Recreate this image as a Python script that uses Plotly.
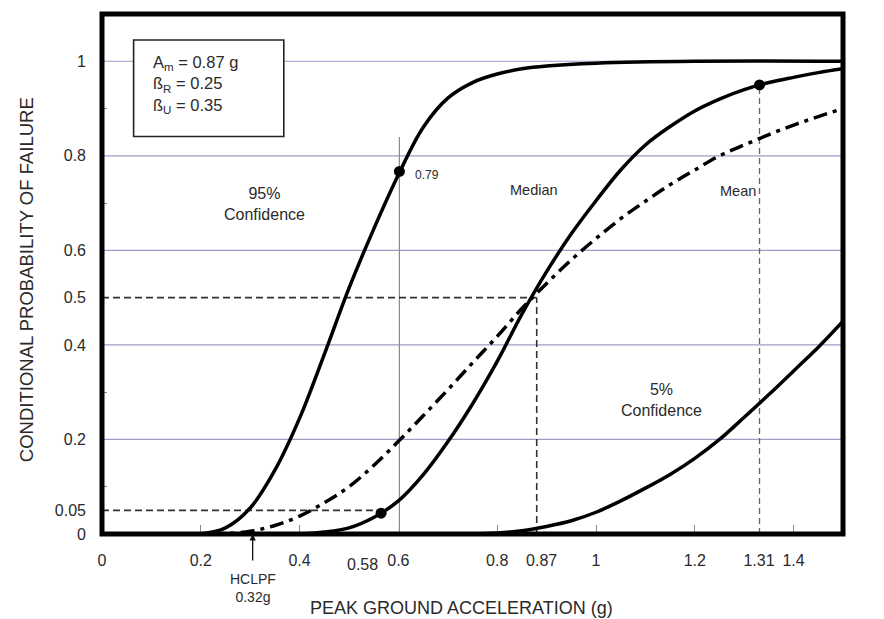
import plotly.graph_objects as go

# ---- data ----
# 95% confidence fragility curve
c95_x = [0.10, 0.20, 0.25, 0.30, 0.35, 0.40, 0.45, 0.50, 0.55, 0.60, 0.65, 0.70, 0.75, 0.80, 0.85, 0.90, 1.00, 1.20, 1.50]
c95_y = [0.0, 0.0, 0.013, 0.055, 0.135, 0.245, 0.38, 0.52, 0.645, 0.76, 0.86, 0.922, 0.955, 0.973, 0.984, 0.99, 0.996, 1.0, 1.0]
# median curve
med_x = [0.30, 0.40, 0.45, 0.50, 0.55, 0.60, 0.65, 0.70, 0.75, 0.80, 0.85, 0.90, 0.95, 1.00, 1.05, 1.10, 1.15, 1.20, 1.25, 1.30, 1.35, 1.40, 1.45, 1.50]
med_y = [0.0, 0.0, 0.004, 0.013, 0.035, 0.07, 0.125, 0.195, 0.275, 0.365, 0.465, 0.555, 0.635, 0.705, 0.77, 0.823, 0.862, 0.895, 0.92, 0.94, 0.955, 0.966, 0.976, 0.984]
# mean curve (dash-dot)
mean_x = [0.22, 0.25, 0.30, 0.35, 0.40, 0.45, 0.50, 0.55, 0.60, 0.65, 0.70, 0.75, 0.80, 0.85, 0.90, 0.95, 1.00, 1.05, 1.10, 1.15, 1.20, 1.25, 1.30, 1.35, 1.40, 1.45, 1.50]
mean_y = [0.0, 0.001, 0.006, 0.018, 0.038, 0.066, 0.10, 0.145, 0.196, 0.25, 0.305, 0.362, 0.418, 0.477, 0.53, 0.58, 0.625, 0.667, 0.704, 0.739, 0.77, 0.80, 0.823, 0.845, 0.865, 0.883, 0.90]
# 5% confidence curve
c5_x = [0.60, 0.70, 0.75, 0.80, 0.85, 0.90, 0.95, 1.00, 1.05, 1.10, 1.15, 1.20, 1.25, 1.30, 1.35, 1.40, 1.45, 1.50]
c5_y = [0.0, 0.0, 0.0, 0.002, 0.007, 0.016, 0.028, 0.046, 0.07, 0.097, 0.126, 0.16, 0.20, 0.247, 0.295, 0.345, 0.395, 0.45]

# highlighted points
dot_x = [0.602, 0.565, 1.331]
dot_y = [0.767, 0.044, 0.950]

# reference guide values
grid_y = [0.2, 0.4, 0.6, 0.8, 1.0]
minor_y = [0.1, 0.3, 0.7, 0.9]
ytick_vals = [0, 0.05, 0.2, 0.4, 0.5, 0.6, 0.8, 1]
ytick_text = ["0", "0.05", "0.2", "0.4", "0.5", "0.6", "0.8", "1"]
xtick_vals = [0, 0.2, 0.4, 0.6, 0.8, 0.89, 1, 1.2, 1.33, 1.4]
xtick_text = ["0", "0.2", "0.4", "0.6", "0.8", "0.87", "1", "1.2", "1.31", "1.4"]
xminor = [0.2, 0.4, 0.8, 1.0, 1.2, 1.4]
median_cap = 0.88   # position of the 0.87 g guide
mean_cap = 1.331    # position of the 1.31 g guide
hclpf_x = 0.305     # position of HCLPF arrow
pt58_x = 0.565
vline_x = 0.602

FONT = "Liberation Sans, Arial, sans-serif"
TXT = "#2a2a2a"

fig = go.Figure()

def curve(x, y, dash=None):
    fig.add_trace(go.Scatter(
        x=x, y=y, mode="lines",
        line=dict(color="black", width=3.5, shape="spline", smoothing=1.0,
                  dash=dash),
        hoverinfo="skip", showlegend=False, cliponaxis=True))

curve(c95_x, c95_y)
curve(med_x, med_y)
curve(mean_x, mean_y, dash="14px,6px,4px,6px")
curve(c5_x, c5_y)

fig.add_trace(go.Scatter(x=dot_x, y=dot_y, mode="markers",
                         marker=dict(color="black", size=11),
                         hoverinfo="skip", showlegend=False, cliponaxis=False))

shapes = []
for g in grid_y:
    shapes.append(dict(type="line", xref="x", yref="y", x0=0, x1=1.5, y0=g, y1=g,
                       line=dict(color="#9c9cc6", width=1.2), layer="below"))
shapes.append(dict(type="line", xref="x", yref="y", x0=vline_x, x1=vline_x, y0=0, y1=0.84,
                   line=dict(color="#8a8a8a", width=1.2), layer="below"))
dk = dict(color="#333333", width=1.6, dash="7px,4px")
shapes.append(dict(type="line", xref="x", yref="y", x0=0, x1=median_cap, y0=0.5, y1=0.5, line=dk, layer="below"))
shapes.append(dict(type="line", xref="x", yref="y", x0=median_cap, x1=median_cap, y0=0, y1=0.5, line=dk, layer="below"))
shapes.append(dict(type="line", xref="x", yref="y", x0=0, x1=pt58_x, y0=0.05, y1=0.05, line=dk, layer="below"))
shapes.append(dict(type="line", xref="x", yref="y", x0=mean_cap, x1=mean_cap, y0=0, y1=0.95,
                   line=dict(color="#666666", width=1.3, dash="6px,4px"), layer="below"))
shapes.append(dict(type="rect", xref="x", yref="y", x0=0.064, x1=0.368, y0=0.841, y1=1.045,
                   line=dict(color="#222222", width=1.6), fillcolor="white", layer="above"))
shapes.append(dict(type="rect", xref="paper", yref="paper", x0=0, x1=1, y0=0, y1=1,
                   line=dict(color="black", width=5), layer="above"))

ann = []
def text(x, y, t, size=15, xanchor="center", yanchor="middle", xref="x", yref="y", align="center", **kw):
    ann.append(dict(x=x, y=y, text=t, xref=xref, yref=yref, showarrow=False,
                    xanchor=xanchor, yanchor=yanchor, align=align,
                    font=dict(family=FONT, size=size, color=TXT), **kw))

text(0.099, 0.950, "A<sub>m</sub> = 0.87 g<br>ß<sub>R</sub> = 0.25<br>ß<sub>U</sub> = 0.35",
     size=16.5, xanchor="left", align="left")
text(0.328, 0.699, "95%<br>Confidence", size=16)
text(0.875, 0.727, "Median", size=14.5)
text(1.287, 0.725, "Mean", size=14.5)
text(1.133, 0.284, "5%<br>Confidence", size=16)
text(0.63, 0.76, "0.79", size=12, xanchor="left")
text(1.518, 0.958, "0.95", size=16, xanchor="left")
text(0.527, -0.0596, "0.58", size=16, yref="paper")
text(hclpf_x, -0.103, "HCLPF<br>0.32g", size=14, yref="paper")
text(0.727, -0.142, "PEAK GROUND ACCELERATION (g)", size=18, yref="paper")
text(-0.1026, 0.49, "CONDITIONAL PROBABILITY OF FAILURE", size=18.5, xref="paper", yref="paper",
     textangle=-90)
ann.append(dict(x=hclpf_x, y=0.0, ax=0, ay=28, xref="x", yref="y",
                showarrow=True, arrowhead=2, arrowsize=1, arrowwidth=1.3, arrowcolor="#111",
                text=""))

fig.update_layout(
    width=876, height=611,
    margin=dict(l=94, r=41, t=6, b=85),
    paper_bgcolor="white", plot_bgcolor="white",
    shapes=shapes, annotations=ann,
    showlegend=False,
    font=dict(family=FONT, color=TXT),
    xaxis=dict(range=[0, 1.5], showgrid=False, zeroline=False, showline=False,
               tickmode="array", tickvals=xtick_vals, ticktext=xtick_text,
               ticks="", tickfont=dict(size=16, color=TXT), ticklabelstandoff=15,
               minor=dict(tickmode="array", tickvals=xminor, ticks="inside",
                          ticklen=9, tickcolor="#8a8a8a", tickwidth=1.2, showgrid=False)),
    yaxis=dict(range=[0, 1.1], showgrid=False, zeroline=False, showline=False,
               tickmode="array", tickvals=ytick_vals, ticktext=ytick_text,
               ticks="", tickfont=dict(size=16, color=TXT), ticklabelstandoff=15,
               minor=dict(tickmode="array", tickvals=minor_y, ticks="inside",
                          ticklen=5, tickcolor="#8a8a8a", tickwidth=1.2, showgrid=False)),
)

fig.write_html("out.html")
